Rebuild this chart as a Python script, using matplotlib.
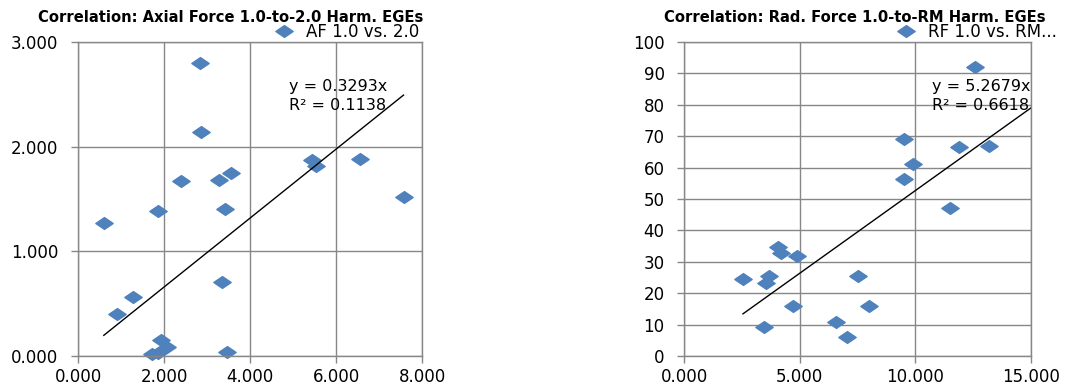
import numpy as np
import matplotlib
matplotlib.use("Agg")
import matplotlib.pyplot as plt
from matplotlib.path import Path
from matplotlib.ticker import FormatStrFormatter, MultipleLocator

# Axial force: 1.0 harmonic vs 2.0 harmonic EGEs
af_x = [0.60, 0.90, 1.28, 1.85, 1.71, 1.86, 1.92, 2.06, 3.36, 3.43,
        3.47, 7.57, 2.83, 2.86, 2.39, 3.28, 3.56, 5.45, 5.54, 6.55]
af_y = [1.27, 0.40, 0.56, 1.39, 0.02, 0.03, 0.15, 0.09, 0.71, 1.40,
        0.04, 1.52, 2.80, 2.14, 1.67, 1.68, 1.75, 1.87, 1.82, 1.88]
af_slope = 0.3293
af_r2 = 0.1138

# Radial force: 1.0 harmonic vs RM harmonic EGEs
rf_x = [12.57, 9.53, 9.90, 9.50, 11.89, 13.17, 11.49, 4.06, 4.21, 4.89,
        2.55, 3.66, 3.53, 4.71, 3.46, 6.55, 7.03, 7.50, 8.00]
rf_y = [92.1, 69.1, 61.2, 56.3, 66.6, 66.9, 47.0, 34.6, 32.7, 31.8,
        24.6, 25.5, 23.3, 16.0, 9.3, 10.9, 6.1, 25.5, 16.0]
rf_slope = 5.2679
rf_r2 = 0.6618

BLUE = "#4F81BD"
GRID = "#878787"

# wide, flat diamond marker
diamond = Path([(-1.0, 0.0), (0.0, 0.68), (1.0, 0.0), (0.0, -0.68), (-1.0, 0.0)],
               [Path.MOVETO, Path.LINETO, Path.LINETO, Path.LINETO, Path.CLOSEPOLY])

plt.rcParams["font.family"] = ["DejaVu Sans"]

W, H = 1074, 387
fig = plt.figure(figsize=(W / 100, H / 100), dpi=100)


def px_axes(left, top, right, bottom):
    return fig.add_axes([left / W, 1 - bottom / H, (right - left) / W, (bottom - top) / H])


def style(ax, xlim, ylim, xstep, ystep, xfmt, yfmt):
    ax.set_xlim(*xlim)
    ax.set_ylim(*ylim)
    ax.xaxis.set_major_locator(MultipleLocator(xstep))
    ax.yaxis.set_major_locator(MultipleLocator(ystep))
    ax.xaxis.set_major_formatter(FormatStrFormatter(xfmt))
    ax.yaxis.set_major_formatter(FormatStrFormatter(yfmt))
    ax.grid(True, color=GRID, linewidth=1.0)
    ax.set_axisbelow(True)
    for s in ax.spines.values():
        s.set_color(GRID)
        s.set_linewidth(1.0)
    ax.tick_params(axis="both", direction="out", length=5, width=1.0,
                   color=GRID, labelsize=12, labelcolor="black")
    ax.tick_params(axis="x", pad=3.5)
    ax.tick_params(axis="y", pad=9)


# ---- left chart ----
ax1 = px_axes(78, 42, 422, 356)
style(ax1, (0, 8), (0, 3), 2, 1, "%.3f", "%.3f")
ax1.plot(af_x, af_y, linestyle="none", marker=diamond, markersize=12.5,
         color=BLUE, label="AF 1.0 vs. 2.0", clip_on=False)
tx = np.array([min(af_x), max(af_x)])
ax1.plot(tx, af_slope * tx, color="black", linewidth=1.0)
fig.text(289 / W, 1 - 87 / H, f"y = {af_slope:.4f}x", fontsize=11.5, va="center", ha="left")
fig.text(289 / W, 1 - 106 / H, f"R² = {af_r2:.4f}", fontsize=11.5, va="center", ha="left")
fig.text(231 / W, 1 - 17 / H, "Correlation: Axial Force 1.0-to-2.0 Harm. EGEs",
         fontsize=10.6, fontweight="bold", ha="center", va="center")
ax1.legend(loc="center left", bbox_to_anchor=(276 / W, 1 - 32 / H),
           bbox_transform=fig.transFigure, frameon=False, fontsize=12,
           handlelength=1.0, handletextpad=0.8, borderpad=0, borderaxespad=0)

# ---- right chart ----
ax2 = px_axes(684, 42, 1031, 356)
style(ax2, (0, 15), (0, 100), 5, 10, "%.3f", "%d")
ax2.plot(rf_x, rf_y, linestyle="none", marker=diamond, markersize=12.5,
         color=BLUE, label="RF 1.0 vs. RM...", clip_on=False)
rx = np.array([min(rf_x), ax2.get_xlim()[1]])
ax2.plot(rx, rf_slope * rx, color="black", linewidth=1.0)
fig.text(932 / W, 1 - 87 / H, f"y = {rf_slope:.4f}x", fontsize=11.5, va="center", ha="left")
fig.text(932 / W, 1 - 106 / H, f"R² = {rf_r2:.4f}", fontsize=11.5, va="center", ha="left")
fig.text(855 / W, 1 - 17 / H, "Correlation: Rad. Force 1.0-to-RM Harm. EGEs",
         fontsize=10.6, fontweight="bold", ha="center", va="center")
ax2.legend(loc="center left", bbox_to_anchor=(898 / W, 1 - 32 / H),
           bbox_transform=fig.transFigure, frameon=False, fontsize=12,
           handlelength=1.0, handletextpad=0.8, borderpad=0, borderaxespad=0)

fig.savefig("out.png", dpi=100)
